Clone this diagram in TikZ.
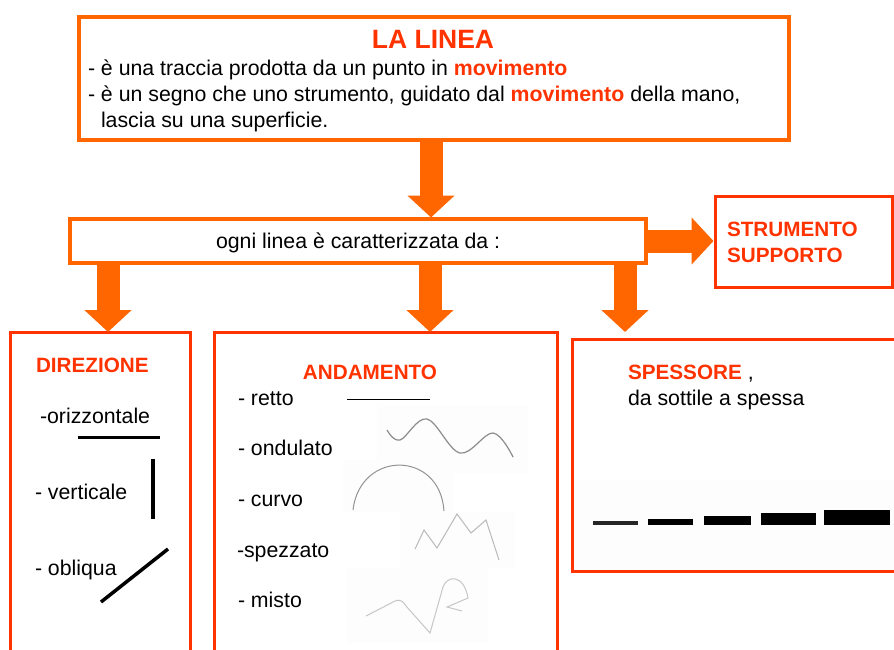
\documentclass[tikz,border=0pt]{standalone}
\usepackage{fontspec}
\setmainfont{Liberation Sans}
\usetikzlibrary{arrows.meta,calc}
\definecolor{orng}{HTML}{FF6600}
\definecolor{redo}{HTML}{FF3300}
\newcommand\bodyfs{\fontsize{21.3}{26}\selectfont}
\newcommand\headfs{\fontsize{20.7}{25}\selectfont\bfseries}
\newcommand\mov{\textcolor{redo}{\textbf{movimento}}}
\tikzset{
  obox/.style={draw=orng, fill=white, line width=4pt, inner sep=0pt, outer sep=0pt, anchor=north west},
  rbox/.style={draw=redo, fill=white, line width=3pt, inner sep=0pt, outer sep=0pt, anchor=north west},
  txt/.style={inner sep=0pt, outer sep=0pt, anchor=base west, font=\bodyfs},
  head/.style={inner sep=0pt, outer sep=0pt, anchor=base west, font=\headfs, text=redo},
  barrow/.style={draw=orng, line width=23pt, -{Triangle[width=46pt,length=22pt]}},
  sample/.style={line width=1pt, draw=gray!75},
  faint/.style={fill=black!0.8, draw=none},
}
\begin{document}
\begin{tikzpicture}[x=1pt,y=-1pt]
\clip (0,0) rectangle (894,650);
\fill[white] (0,0) rectangle (894,650);

% boxes
\node[obox, minimum width=710pt, minimum height=123pt] (top) at (79,17) {};
\node[obox, line width=3.5pt, minimum width=576pt, minimum height=44pt] (mid) at (70,219) {};
\node[rbox, minimum width=176.5pt, minimum height=91pt] (strum) at (715.5,196) {};
\node[rbox, minimum width=180pt, minimum height=330pt] (dir) at (10,332) {};
\node[rbox, minimum width=343pt, minimum height=330pt] (and) at (214,332) {};
\node[rbox, minimum width=330pt, minimum height=232pt] (spess) at (572,339) {};

% column coordinates
\coordinate (xt) at (431,0);
\coordinate (xa) at (108,0);
\coordinate (xb) at (430,0);
\coordinate (xc) at (625,0);
\coordinate (yr) at (0,241);

% arrows
\draw[barrow, shorten >=1.5pt] (top.south -| xt) -- (mid.north -| xt);
\draw[barrow, shorten >=2pt] (mid.east |- yr) -- (strum.west |- yr);
\draw[barrow] (mid.south -| xa) -- (dir.north -| xa);
\draw[barrow] (mid.south -| xb) -- (and.north -| xb);
\draw[barrow, shorten >=7pt] (mid.south -| xc) -- (spess.north -| xc);

% top box text
\node[inner sep=0pt, anchor=base, font=\fontsize{26.5}{30}\selectfont\bfseries, text=redo] (title) at (433,49) {LA LINEA};
\node[txt] (t1) at (88,76) {- è una traccia prodotta da un punto in \mov};
\node[txt] (t2) at (88,102) {- è un segno che uno strumento, guidato dal \mov{} della mano,};
\node[txt] (t3) at (101,128) {lascia su una superficie.};

% middle
\node[txt] (m1) at (216,248) {ogni linea è caratterizzata da :};
\node[head] (s1) at (727,236) {STRUMENTO};
\node[head] (s2) at (727,262) {SUPPORTO};

% DIREZIONE
\node[head] (dh) at (36,372) {DIREZIONE};
\node[txt] (d1) at (40,423) {-orizzontale};
\node[txt] (d2) at (35,499) {- verticale};
\node[txt] (d3) at (35,575) {- obliqua};
\draw[line width=3pt] (78,437) -- (160,437);
\draw[line width=3.5pt] (153,459) -- (153,519);
\draw[line width=3.5pt] (101,602) -- (168,549);

% ANDAMENTO
\node[head, anchor=base] (ah) at (370,379) {ANDAMENTO};
\node[txt] (a1) at (238,405) {- retto};
\node[txt] (a2) at (238,455) {- ondulato};
\node[txt] (a3) at (238,506) {- curvo};
\node[txt] (a4) at (237,557) {-spezzato};
\node[txt] (a5) at (238,607) {- misto};
\fill[faint] (377,405) rectangle (528,473);
\fill[faint] (343,460) rectangle (453,512);
\fill[faint] (400,512) rectangle (515,568);
\fill[faint] (347,568) rectangle (488,643);
\draw[line width=1pt] (347,399) -- (430,399);
\draw[sample, draw=gray!90, line width=1.2pt] plot[smooth, tension=0.6] coordinates {(387,430) (400,440) (427,419) (460,453) (493,433) (513,457)};
\draw[sample, draw=gray!85] (353,510) .. controls (360,450) and (440,450) .. (444,511);
\draw[sample, draw=gray!55] (415,549) -- (424,530) -- (437,548) -- (457,514) -- (471,533) -- (486,520) -- (499,560);
\draw[sample, draw=gray!45] (366,616) -- (395,601) .. controls (400,599) and (403,601) .. (406,606) -- (430,633) -- (443,587) .. controls (447,575) and (464,574) .. (468,598) -- (447,607) -- (462,611);

% SPESSORE
\node[txt] (sh) at (628,379) {\textcolor{redo}{\headfs SPESSORE} ,};
\node[txt] (sp) at (628,405) {da sottile a spessa};
\fill[faint, fill=black!0.6] (574,480) rectangle (894,569);
\fill[black!85] (593,521) rectangle (638,525);
\fill[black] (648,519) rectangle (693,525);
\fill[black] (704,516) rectangle (751,525);
\fill[black] (761,513) rectangle (816,525);
\fill[black] (824,510) rectangle (890,525);
\end{tikzpicture}
\end{document}
